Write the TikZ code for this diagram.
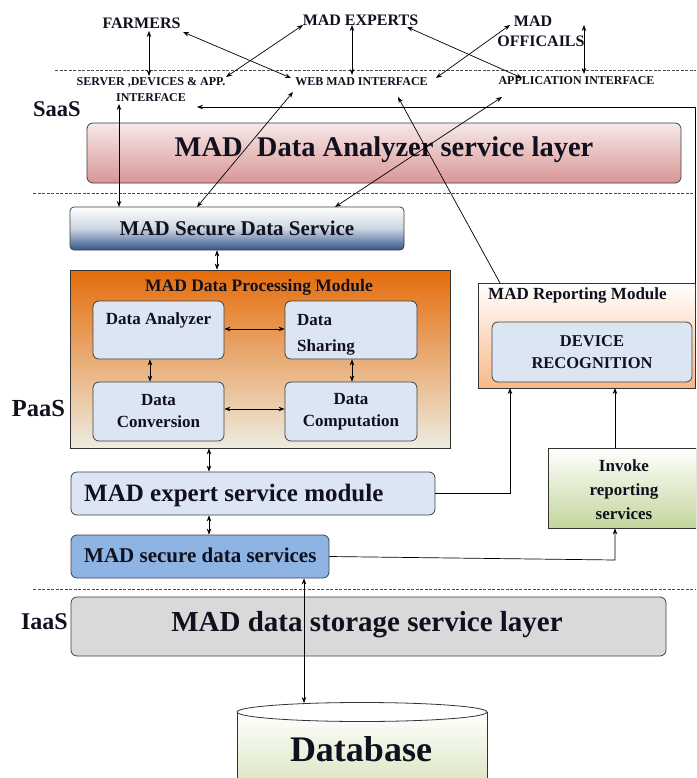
\documentclass[tikz,border=0pt]{standalone}
\usepackage{fontspec}
\setmainfont{Liberation Serif}
\usetikzlibrary{arrows.meta,calc}
\newcommand\myfs[1]{\fontsize{#1}{#1}\selectfont}
\definecolor{pinkT}{HTML}{F6E9E9}
\definecolor{pinkB}{HTML}{D99694}
\definecolor{blueB}{HTML}{34568C}
\definecolor{orangeT}{HTML}{E46C0A}
\definecolor{orangeB}{HTML}{EEECE1}
\definecolor{repB}{HTML}{F9B987}
\definecolor{innerC}{HTML}{DCE6F2}
\definecolor{ssBlue}{HTML}{8DB4E2}
\definecolor{greenB}{HTML}{C3D69B}
\definecolor{grayC}{HTML}{D9D9D9}
\definecolor{dbB}{HTML}{D7E4BD}
\definecolor{txt}{HTML}{10101E}
\tikzset{
  rbox/.style={draw=black!75, line width=0.8pt, rounded corners=6pt, inner sep=0pt},
  sbox/.style={draw=black!80, line width=0.8pt, inner sep=0pt},
  arr/.style={-{Stealth[length=6pt,width=4.5pt]}, line width=0.7pt},
  darr/.style={{Stealth[length=6pt,width=4.5pt]}-{Stealth[length=6pt,width=4.5pt]}, line width=0.7pt},
  lbl/.style={font=\bfseries, inner sep=0pt, text=txt},
  layerline/.style={dash pattern=on 3pt off 1.5pt, line width=0.9pt, black!70}
}
\begin{document}
\begin{tikzpicture}[x=1pt,y=-1pt]
\useasboundingbox (0,0) rectangle (696,778);
\clip (0,0) rectangle (696,778);
\fill[white] (0,0) rectangle (696,778);

% dashed layer separators
\draw[layerline] (55,70) -- (696,70);
\draw[layerline] (33,193) -- (696,193);
\draw[layerline] (33,589) -- (696,589);

% top actors
\node[lbl, font=\bfseries\myfs{16}] (farmers) at (141.5,23) {FARMERS};
\node[lbl, font=\bfseries\myfs{16}] (experts) at (360.5,20) {MAD EXPERTS};
\node[lbl, font=\bfseries\myfs{16}] (offmad) at (533,21) {MAD};
\node[lbl, font=\bfseries\myfs{16}] (offic) at (541,41) {OFFICAILS};

% interfaces
\node[lbl, font=\bfseries\myfs{12}] (server) at (151,82) {SERVER ,DEVICES \& APP.};
\node[lbl, font=\bfseries\myfs{12}] (iface) at (151,98) {INTERFACE};
\node[lbl, font=\bfseries\myfs{12}] (web) at (361.5,82) {WEB MAD INTERFACE};
\node[lbl, font=\bfseries\myfs{12}] (app) at (576.5,81) {APPLICATION INTERFACE};

% layer labels
\node[lbl, font=\bfseries\myfs{22.5}] (saas) at (57,109) {SaaS};
\node[lbl, font=\bfseries\myfs{24.5}] (paas) at (38.5,409) {PaaS};
\node[lbl, font=\bfseries\myfs{24}] (iaas) at (44.5,622) {IaaS};

% SaaS layer
\node[rbox, top color=pinkT, bottom color=pinkB, minimum width=594pt, minimum height=60pt] (analyzer) at (384,153) {};
\node[lbl, font=\bfseries\myfs{28.5}] (analyzerT) at (384,150) {MAD\ \ Data Analyzer service layer};

% PaaS
\node[rbox, rounded corners=4pt, top color=white, bottom color=blueB, middle color=blueB!25, minimum width=334pt, minimum height=43pt] (sds) at (237,228.5) {};
\node[lbl, font=\bfseries\myfs{21}] (sdsT) at (237,228) {MAD Secure Data Service};

\node[sbox, top color=orangeT, bottom color=orangeB, minimum width=380pt, minimum height=178pt] (proc) at (260,359) {};
\node[lbl, font=\bfseries\myfs{17.5}] (procT) at (259,287) {MAD Data Processing Module};

\node[rbox, fill=innerC, minimum width=131pt, minimum height=58pt] (dan) at (158.5,330) {};
\node[lbl, font=\bfseries\myfs{17}] (danT) at (158.5,320) {Data Analyzer};
\node[rbox, fill=innerC, minimum width=132pt, minimum height=58pt] (dsh) at (351,330) {};
\node[lbl, font=\bfseries\myfs{17}, anchor=west] (dshT1) at (297,320) {Data};
\node[lbl, font=\bfseries\myfs{17}, anchor=west] (dshT2) at (297,347) {Sharing};
\node[rbox, fill=innerC, minimum width=131pt, minimum height=59pt] (dcv) at (158.5,411.5) {};
\node[lbl, font=\bfseries\myfs{17}, align=center] (dcvT) at (158.5,411.5) {Data\\[5pt]Conversion};
\node[rbox, fill=innerC, minimum width=132pt, minimum height=59pt] (dcp) at (351,411.5) {};
\node[lbl, font=\bfseries\myfs{17}, align=center] (dcpT) at (351,411.5) {Data\\[5pt]Computation};

\node[sbox, top color=white, bottom color=repB, minimum width=217pt, minimum height=105pt] (rep) at (587,335.5) {};
\node[lbl, font=\bfseries\myfs{17}, anchor=west] (repT) at (488,295) {MAD Reporting Module};
\node[rbox, fill=innerC, minimum width=200pt, minimum height=60pt] (dev) at (592,352) {};
\node[lbl, font=\bfseries\myfs{16.5}, align=center] (devT) at (592,352) {DEVICE\\[5pt]RECOGNITION};

\node[rbox, fill=innerC, minimum width=364pt, minimum height=43pt] (expert) at (253,493.5) {};
\node[lbl, font=\bfseries\myfs{25}, anchor=west] (expertT) at (84,495) {MAD expert service module};

\node[sbox, top color=white, bottom color=greenB, minimum width=148pt, minimum height=80pt] (invoke) at (622,488) {};
\node[lbl, font=\bfseries\myfs{17}, align=center] (invokeT) at (624,490) {Invoke\\[7pt]reporting\\[7pt]services};

\node[rbox, fill=ssBlue, minimum width=258pt, minimum height=43pt] (ss) at (200,556.5) {};
\node[lbl, font=\bfseries\myfs{21}, anchor=west] (ssT) at (84,555) {MAD secure data services};

% IaaS
\node[rbox, fill=grayC, minimum width=595pt, minimum height=59pt] (storage) at (368.5,626.5) {};
\node[lbl, font=\bfseries\myfs{29}] (storageT) at (367,625) {MAD data storage service layer};

% database cylinder
\path[top color=white, bottom color=dbB, draw=black!80, line width=0.8pt] (237,712) -- (237,790) -- (487,790) -- (487,712) -- cycle;
\draw[fill=white, draw=black!80, line width=0.8pt] (362,712) ellipse [x radius=125, y radius=9.5];
\node[lbl, font=\bfseries\myfs{36}] (db) at (361,749) {Database};
\coordinate (dbtop) at (304,703);

% named end points
\coordinate (a1) at (149,31);  \coordinate (b1) at (149,76);
\coordinate (a2) at (183,32);  \coordinate (b2) at (291,78);
\coordinate (a3) at (303,25);  \coordinate (b3) at (226,77);
\coordinate (a4) at (352,25);  \coordinate (b4) at (352,75);
\coordinate (a5) at (407,27);  \coordinate (b5) at (522,78);
\coordinate (a6) at (510,25);  \coordinate (b6) at (436,78);
\coordinate (a7) at (584,25);  \coordinate (b7) at (584,74);
\coordinate (ifaceIn) at (197,107);
\coordinate (webIn) at (398,97);
\coordinate (repTop) at (500,283);
\coordinate (srvIn) at (119,104);  \coordinate (sdsIn1) at (119,207);
\coordinate (webIn2) at (293,92);  \coordinate (sdsIn2) at (197,207);
\coordinate (appIn) at (502,97);   \coordinate (sdsIn3) at (335,207);
\coordinate (repIn1) at (510,388);
\coordinate (repIn2) at (615,388);
\coordinate (x217) at (217,0);
\coordinate (x209) at (209,0);

% top connectors
\draw[darr] (a1) -- (b1);
\draw[darr] (a2) -- (b2);
\draw[darr] (a3) -- (b3);
\draw[darr] (a4) -- (b4);
\draw[darr] (a5) -- (b5);
\draw[darr] (a6) -- (b6);
\draw[darr] (a7) -- (b7);
\draw[arr] ([xshift=-0.6pt]rep.north east) |- (ifaceIn);
\draw[arr] (repTop) -- (webIn);
\draw[darr] (srvIn) -- (sdsIn1);
\draw[darr] (webIn2) -- (sdsIn2);
\draw[darr] (appIn) -- (sdsIn3);

% PaaS connectors
\draw[darr] (sds.south -| x217) -- (proc.north -| x217);
\draw[darr] (dan.east |- 0,329) -- (dsh.west |- 0,329);
\draw[darr] (dcv.east |- 0,409) -- (dcp.west |- 0,409);
\draw[darr] (dan.south -| 150,0) -- (dcv.north -| 150,0);
\draw[darr] (dsh.south -| 352,0) -- (dcp.north -| 352,0);
\draw[darr] (proc.south -| x209) -- (expert.north -| x209);
\draw[darr] (expert.south -| x209) -- (ss.north -| x209);
\draw[arr] (expert.east) -| (repIn1);
\draw[arr] (invoke.north -| repIn2) -- (repIn2);
\draw[arr] (ss.east) -- (615,560) -- (invoke.south -| repIn2);
\draw[darr] (ss.south -| dbtop) -- (dbtop);
\end{tikzpicture}
\end{document}
